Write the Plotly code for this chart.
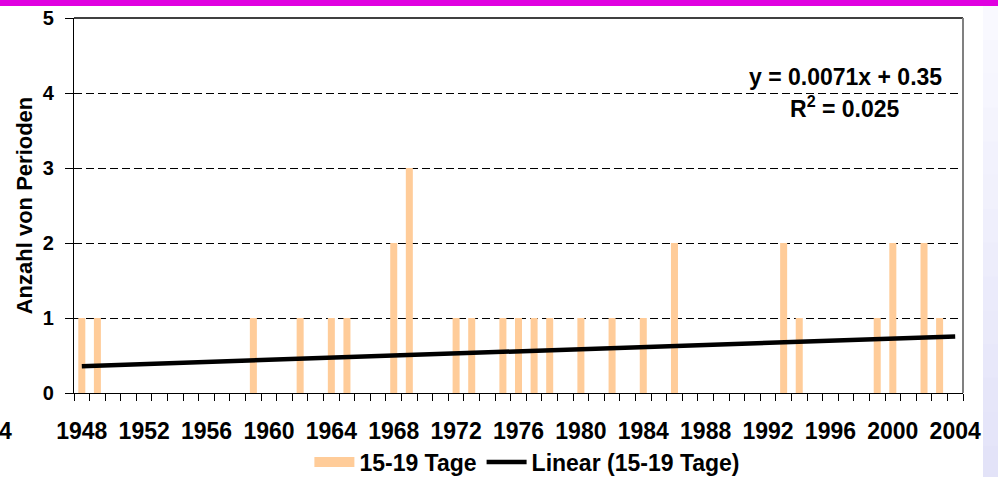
import plotly.graph_objects as go

# ---- data ----
years = list(range(1948, 2005))
bar_years = [1948, 1949, 1959, 1962, 1964, 1965, 1968, 1969, 1972, 1973, 1975, 1976,
             1977, 1978, 1980, 1982, 1984, 1986, 1993, 1994, 1999, 2000, 2002, 2003]
bar_values = [1, 1, 1, 1, 1, 1, 2, 3, 1, 1, 1, 1,
              1, 1, 1, 1, 1, 2, 2, 1, 1, 2, 2, 1]
trend_years = [1948, 2004]
trend_values = [0.357, 0.755]
x_tick_years = list(range(1948, 2005, 4))
y_ticks = [0, 1, 2, 3, 4, 5]
series_name = "15-19 Tage"
trend_name = "Linear (15-19 Tage)"
eq_line1 = "y = 0.0071x + 0.35"
eq_line2 = "R<sup>2</sup> = 0.025"
y_title = "Anzahl von Perioden"

FONT = "Arial, 'Liberation Sans', sans-serif"
BAR_COLOR = "#FFCC99"

fig = go.Figure()
fig.add_trace(go.Bar(x=bar_years, y=bar_values, name=series_name, showlegend=False,
                     legendgroup="bars",
                     marker=dict(color=BAR_COLOR, line=dict(width=0)), width=0.45))
# legend entry for the bars (wide, Excel-like swatch)
fig.add_trace(go.Scatter(x=[None], y=[None], mode="lines", name=series_name,
                         legendgroup="bars", line=dict(color=BAR_COLOR, width=11)))
fig.add_trace(go.Scatter(x=trend_years, y=trend_values, mode="lines", name=trend_name,
                         line=dict(color="black", width=4.5)))

W, H = 998, 477
L, R, T, B = 74, 35, 18, 84
pw, ph = W - L - R, H - T - B

def px_x(p):
    return (p - L) / pw

def px_y(p):
    return (H - B - p) / ph

shapes = []
# top border of plot area
shapes.append(dict(type="line", xref="paper", yref="paper", x0=0, x1=1, y0=1, y1=1,
                   line=dict(color="black", width=1.3)))
# right border (grey)
shapes.append(dict(type="line", xref="paper", yref="paper", x0=1, x1=1, y0=0, y1=1,
                   line=dict(color="#808080", width=2)))
# magenta band at top
shapes.append(dict(type="rect", xref="paper", yref="paper", x0=px_x(-5), x1=px_x(W + 5),
                   y0=px_y(6), y1=px_y(-5), fillcolor="#E000E0", line=dict(width=0), layer="above"))
# light lavender strip at right (gradient)
n = 14
top_c = (250, 250, 255)
bot_c = (226, 226, 248)
y_top, y_bot = 6, H + 2
for i in range(n):
    t = (i + 0.5) / n
    c = tuple(int(round(top_c[k] + (bot_c[k] - top_c[k]) * t)) for k in range(3))
    y0p = y_top + (y_bot - y_top) * i / n
    y1p = y_top + (y_bot - y_top) * (i + 1) / n
    shapes.append(dict(type="rect", xref="paper", yref="paper", x0=px_x(983), x1=px_x(W + 5),
                       y0=px_y(y1p + 0.5), y1=px_y(y0p), fillcolor="rgb(%d,%d,%d)" % c,
                       line=dict(width=0), layer="below"))

annotations = [
    dict(text=eq_line1, xref="paper", yref="paper", x=px_x(845), y=px_y(77),
         xanchor="center", yanchor="middle", showarrow=False,
         font=dict(family=FONT, size=23, color="black", weight="bold")),
    dict(text=eq_line2, xref="paper", yref="paper", x=px_x(845), y=px_y(107),
         xanchor="center", yanchor="middle", showarrow=False,
         font=dict(family=FONT, size=23, color="black", weight="bold")),
    dict(text="4", xref="paper", yref="paper", x=px_x(-3), y=px_y(431),
         xanchor="left", yanchor="middle", showarrow=False,
         font=dict(family=FONT, size=23, color="black", weight="bold")),
]

fig.update_layout(
    width=W, height=H,
    margin=dict(l=L, r=R, t=T, b=B, autoexpand=False),
    paper_bgcolor="white", plot_bgcolor="white",
    font=dict(family=FONT, color="black", weight="bold"),
    bargap=0.5,
    shapes=shapes,
    annotations=annotations,
    legend=dict(orientation="h", x=0.51, xanchor="center", y=px_y(462), yanchor="middle",
                font=dict(family=FONT, size=23, color="black", weight="bold"),
                bgcolor="rgba(0,0,0,0)", itemwidth=40, traceorder="normal"),
    xaxis=dict(range=[1947.5, 2004.5], tickmode="array", tickvals=x_tick_years,
               ticktext=[str(v) for v in x_tick_years], ticks="", showgrid=False,
               showline=True, linecolor="black", linewidth=1.3, zeroline=False,
               automargin=False,
               tickfont=dict(family=FONT, size=23, color="black", weight="bold"),
               ticklabelstandoff=17,
               minor=dict(tickmode="linear", tick0=1947.5, dtick=1, ticks="outside",
                          ticklen=7, tickcolor="black", tickwidth=1, showgrid=False)),
    yaxis=dict(range=[0, 5], tickmode="array", tickvals=y_ticks, ticks="outside",
               ticklen=8, tickcolor="black", tickwidth=1,
               showgrid=True, gridcolor="black", gridwidth=1, griddash="8px,4px",
               showline=True, linecolor="black", linewidth=1.3, zeroline=False,
               automargin=False,
               tickfont=dict(family=FONT, size=20, color="black", weight="bold"),
               ticklabelstandoff=7,
               title=dict(text=y_title, standoff=4,
                          font=dict(family=FONT, size=22, color="black", weight="bold"))),
)

fig.write_html("out.html", config={"displayModeBar": False},
               post_script="document.body.style.margin='0';document.body.style.padding='0';")
